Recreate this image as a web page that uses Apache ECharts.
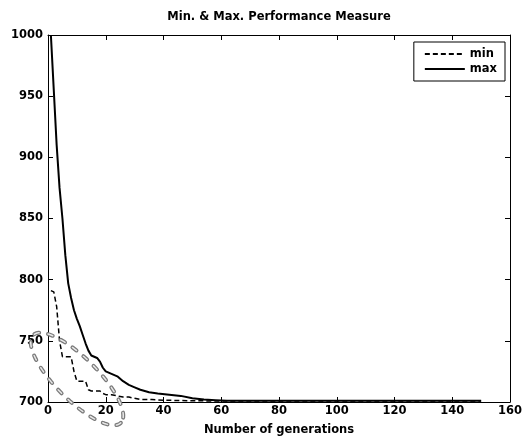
<!DOCTYPE html>
<html>
<head>
<meta charset="utf-8">
<script src="https://cdn.jsdelivr.net/npm/echarts@6/dist/echarts.min.js"></script>
<style>
html,body{margin:0;padding:0;background:#fff;}
#chart{width:531px;height:441px;}
</style>
</head>
<body>
<div id="chart"></div>
<script>
// Data
var titleText = 'Min. & Max. Performance Measure';
var xAxisName = 'Number of generations';
var seriesNames = ['min', 'max'];
var xTicks = [0, 20, 40, 60, 80, 100, 120, 140, 160];
var yTicks = [700, 750, 800, 850, 900, 950, 1000];

var maxGen = [1, 2, 3, 4, 5, 6, 7, 8, 9, 10, 11, 12, 13, 14, 15, 16, 17, 18, 19, 20, 22, 24, 26, 28, 30, 32, 35, 38, 42, 46, 50, 54, 58, 62, 150];
var maxVal = [1000, 955, 910, 875, 850, 820, 797, 785, 775, 768, 762, 755, 748, 742, 738, 737, 736, 733, 728, 725, 723, 721, 717, 714, 712, 710, 708, 707, 706, 705, 703, 702, 701.5, 701, 701];

var minGen = [1, 2, 3, 4, 5, 6, 7, 8, 9, 10, 11, 12, 13, 14, 15, 16, 17, 18, 19, 20, 22, 24, 26, 28, 30, 32, 36, 40, 50, 60, 150];
var minVal = [791, 790, 778, 750, 737, 737, 737, 737, 725, 717, 717, 717, 717, 710, 709, 709, 709, 709, 707, 706, 706, 705, 704, 704, 703, 702, 702, 701.5, 701, 700.8, 700.8];

function pairs(xs, ys) { return xs.map(function (x, i) { return [x, ys[i]]; }); }

var FONT = '"DejaVu Sans", Arial, sans-serif';
var FS = 11.5;
var chart = echarts.init(document.getElementById('chart'), null, {renderer: 'canvas'});

// decorative hand-drawn dotted oval (annotation in the scan)
var ovalPts = [];
(function () {
  var cx = 77, cy = 379, a = 62, b = 21, ang = Math.PI / 4;
  for (var k = 0; k < 72; k++) {
    var t = k / 72 * Math.PI * 2;
    var x = a * Math.cos(t), y = b * Math.sin(t);
    ovalPts.push([cx + x * Math.cos(ang) - y * Math.sin(ang), cy + x * Math.sin(ang) + y * Math.cos(ang)]);
  }
})();

var axisCommon = {
  axisLine: {show: true, onZero: false, lineStyle: {color: '#000', width: 1}},
  axisTick: {show: true, inside: true, length: 5, lineStyle: {color: '#000', width: 1}},
  splitLine: {show: false}
};
var txt = {fontFamily: FONT, fontSize: FS, fontWeight: 'bold', color: '#000'};

chart.setOption({
  animation: false,
  backgroundColor: '#fff',
  title: {
    text: titleText, left: 279, top: 11, textAlign: 'center', padding: 0,
    textStyle: txt
  },
  grid: {left: 48, right: 21, top: 35, bottom: 36, containLabel: false},
  legend: {
    data: seriesNames.map(function (n) { return {name: n}; }),
    orient: 'vertical', right: 26, top: 42,
    backgroundColor: '#fff', borderColor: '#000', borderWidth: 1,
    padding: [6, 8, 6, 10], itemGap: 3, itemWidth: 40, itemHeight: 12,
    itemStyle: {opacity: 0},
    textStyle: txt
  },
  xAxis: [
    Object.assign({
      type: 'value', min: 0, max: 160, interval: 20, position: 'bottom',
      name: xAxisName, nameLocation: 'middle', nameGap: 22,
      nameTextStyle: txt,
      axisLabel: Object.assign({margin: 3,
        formatter: function (v) { return xTicks.indexOf(v) >= 0 ? String(v) : ''; }}, txt)
    }, axisCommon),
    Object.assign({
      type: 'value', min: 0, max: 160, interval: 20, position: 'top',
      axisLabel: {show: false}
    }, axisCommon)
  ],
  yAxis: [
    Object.assign({
      type: 'value', min: 700, max: 1000, interval: 50, position: 'left',
      axisLabel: Object.assign({margin: 5,
        formatter: function (v) { return yTicks.indexOf(v) >= 0 ? String(v) : ''; }}, txt)
    }, axisCommon),
    Object.assign({
      type: 'value', min: 700, max: 1000, interval: 50, position: 'right',
      axisLabel: {show: false}
    }, axisCommon)
  ],
  series: [
    {
      name: seriesNames[0], type: 'line', xAxisIndex: 0, yAxisIndex: 0,
      data: pairs(minGen, minVal), symbol: 'none', showSymbol: false,
      lineStyle: {color: '#000', width: 1.5, type: [5, 3]}, itemStyle: {color: '#000'}, z: 3
    },
    {
      name: seriesNames[1], type: 'line', xAxisIndex: 0, yAxisIndex: 0,
      data: pairs(maxGen, maxVal), symbol: 'none', showSymbol: false,
      lineStyle: {color: '#000', width: 2, type: 'solid'}, itemStyle: {color: '#000'}, z: 4
    }
  ],
  graphic: [{
    type: 'polygon', silent: true, z: 10,
    shape: {points: ovalPts},
    style: {fill: 'none', stroke: '#7a7a7a', lineWidth: 4, lineDash: [5, 9], lineCap: 'round'}
  }, {
    type: 'polygon', silent: true, z: 11,
    shape: {points: ovalPts},
    style: {fill: 'none', stroke: '#e8e8e8', lineWidth: 1.5, lineDash: [5, 9], lineCap: 'round'}
  }]
});
</script>
</body>
</html>
